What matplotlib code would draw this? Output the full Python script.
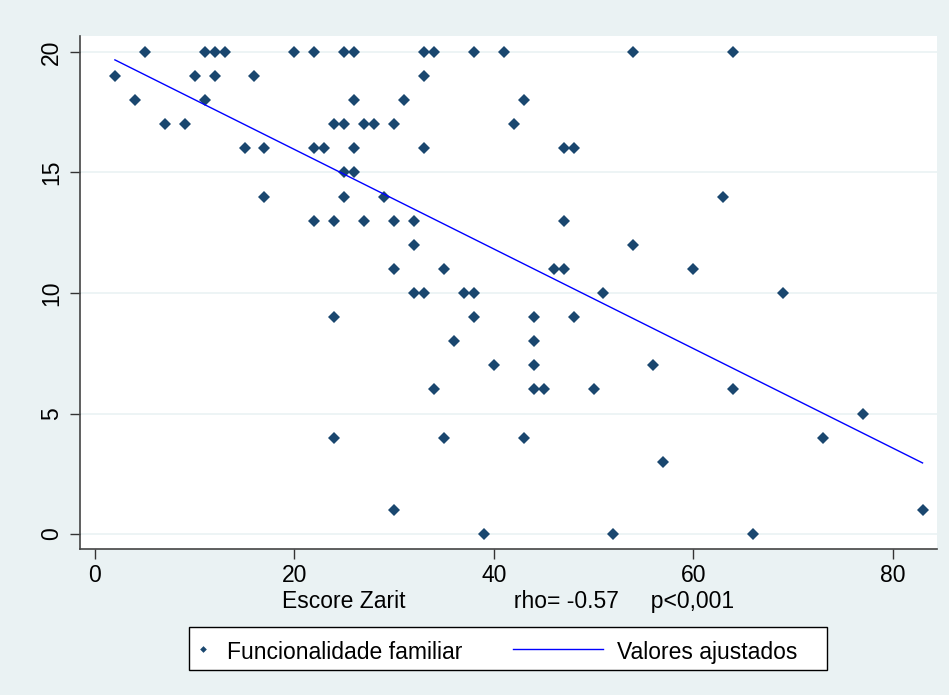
import matplotlib
matplotlib.use('Agg')
import matplotlib.pyplot as plt
from matplotlib.patches import Rectangle
from matplotlib.lines import Line2D

plt.rcParams['font.family'] = ['Liberation Sans', 'DejaVu Sans']

# Escore Zarit (x) vs Funcionalidade familiar (y)
zarit = [5, 11, 12, 13, 20, 22, 25, 26, 33, 34, 38, 41, 54, 64,
         2, 10, 12, 16, 33,
         4, 11, 26, 31, 43,
         7, 9, 24, 25, 27, 28, 30, 42,
         15, 17, 22, 23, 26, 33, 47, 48,
         25, 26,
         17, 25, 29, 63,
         22, 24, 27, 30, 32, 47,
         32, 54,
         30, 35, 46, 47, 60,
         32, 33, 37, 38, 51, 69,
         24, 38, 44, 48,
         36, 44,
         40, 44, 56,
         34, 44, 45, 50, 64,
         77,
         24, 35, 43, 73,
         57,
         30, 83,
         39, 52, 66]
func = [20]*14 + [19]*5 + [18]*5 + [17]*8 + [16]*8 + [15]*2 + [14]*4 + [13]*6 + \
       [12]*2 + [11]*5 + [10]*6 + [9]*4 + [8]*2 + [7]*3 + [6]*5 + [5]*1 + \
       [4]*4 + [3]*1 + [1]*2 + [0]*3

# fitted values (Valores ajustados), ends of the line
fit_x = [2, 83]
fit_y = [19.67, 2.95]

xticks = [0, 20, 40, 60, 80]
yticks = [0, 5, 10, 15, 20]

navy = '#1a476f'
bg = '#eaf2f3'
fs = 16.5

fig = plt.figure(figsize=(9.49, 6.95), dpi=100, facecolor=bg)
W, H = 949, 695
ax = fig.add_axes([80/W, 1 - 549/H, (937-80)/W, (549-36)/H])
ax.set_facecolor('white')

ax.plot(zarit, func, 'D', color=navy, markersize=5.8, markeredgewidth=0, zorder=3)
ax.plot(fit_x, fit_y, '-', color='#0000ff', linewidth=1.0, zorder=4)

ax.set_xlim(-1.5, 84.45)
ax.set_ylim(-0.62, 20.66)
ax.set_xticks(xticks)
ax.set_yticks(yticks)
ax.tick_params(axis='both', labelsize=fs, length=7, width=1, color='#333333')
ax.tick_params(axis='x', pad=3.5)
ax.tick_params(axis='y', pad=5)
for lab in ax.get_yticklabels():
    lab.set_rotation(90)
    lab.set_va('center')
ax.yaxis.grid(True, color=bg, linewidth=1.2)
ax.set_axisbelow(True)
for s in ['top', 'right']:
    ax.spines[s].set_visible(False)
for s in ['left', 'bottom']:
    ax.spines[s].set_color('#444444')
    ax.spines[s].set_linewidth(1.2)

ax.set_xlabel('Escore Zarit' + ' '*17 + 'rho= -0.57' + ' '*5 + 'p<0,001',
              fontsize=fs, labelpad=2.5)

# legend box drawn like the Stata one
fig.add_artist(Rectangle((189/W, 1 - 670/H), (827-189)/W, (670-627)/H,
                         transform=fig.transFigure, facecolor='white',
                         edgecolor='black', linewidth=1.0))
ly = 1 - 649/H
base = 1 - 659/H
fig.add_artist(Line2D([203/W], [ly], marker='D', markersize=3.4, color=navy,
                      markeredgewidth=0, transform=fig.transFigure))
fig.text(227/W, base, 'Funcionalidade familiar', fontsize=fs, va='baseline')
fig.add_artist(Line2D([513/W, 603/W], [ly, ly], color='#0000ff', linewidth=1.0,
                      transform=fig.transFigure))
fig.text(617/W, base, 'Valores ajustados', fontsize=fs, va='baseline')

fig.savefig('out.png', dpi=100, facecolor=bg)
